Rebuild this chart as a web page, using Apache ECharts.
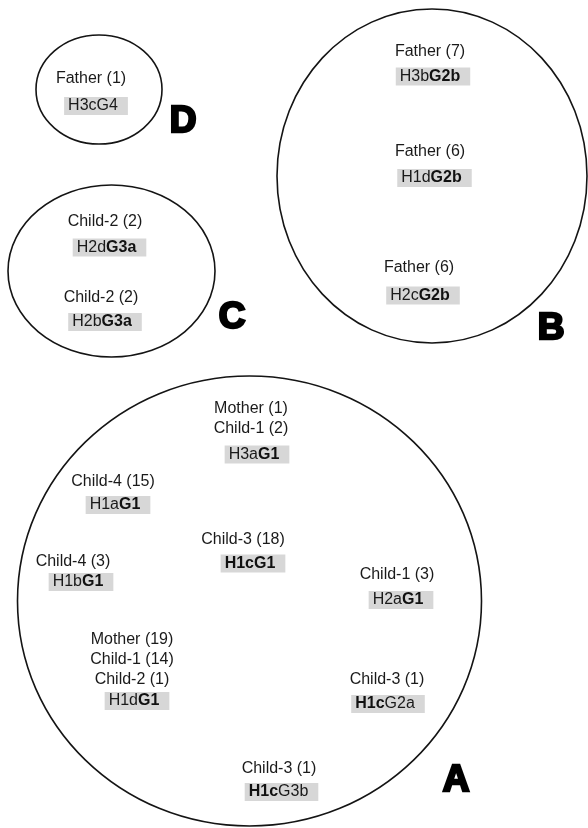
<!DOCTYPE html>
<html>
<head>
<meta charset="utf-8">
<script src="https://cdn.jsdelivr.net/npm/echarts/dist/echarts.min.js"></script>
<style>
  html, body { margin: 0; padding: 0; background: #ffffff; }
  #main { width: 588px; height: 828px; }
</style>
</head>
<body>
<div id="main"></div>
<script>
// ---- Groups (circles) ----
const groupNames = ['A', 'B', 'C', 'D'];
const groupCX = [249.5, 432, 111.5, 99];
const groupCY = [601, 176, 271, 89.5];
const groupRX = [232, 155, 103.5, 63];
const groupRY = [225, 167, 86, 54.5];
const letterX = [456, 551, 232, 183];
const letterY = [781, 329, 318, 122];

// ---- Members ----
const memberGroup = ['D', 'C', 'C', 'B', 'B', 'B', 'A', 'A', 'A', 'A', 'A', 'A', 'A', 'A'];
const memberNames = [
  'Father (1)',
  'Child-2 (2)',
  'Child-2 (2)',
  'Father (7)',
  'Father (6)',
  'Father (6)',
  'Mother (1)\nChild-1 (2)',
  'Child-4 (15)',
  'Child-3 (18)',
  'Child-4 (3)',
  'Child-1 (3)',
  'Mother (19)\nChild-1 (14)\nChild-2 (1)',
  'Child-3 (1)',
  'Child-3 (1)'
];
const hapH = ['H3c', 'H2d', 'H2b', 'H3b', 'H1d', 'H2c', 'H3a', 'H1a', 'H1c', 'H1b', 'H2a', 'H1d', 'H1c', 'H1c'];
const hapG = ['G4', 'G3a', 'G3a', 'G2b', 'G2b', 'G2b', 'G1', 'G1', 'G1', 'G1', 'G1', 'G1', 'G2a', 'G3b'];
const hBold = [0, 0, 0, 0, 0, 0, 0, 0, 1, 0, 0, 0, 1, 1];
const gBold = [0, 1, 1, 1, 1, 1, 1, 1, 1, 1, 1, 1, 0, 0];

// ---- Layout (positions in picture units) ----
const nameX = [91, 105, 101, 430, 430, 419, 251, 113, 243, 73, 397, 132, 387, 279];
const nameY = [79, 222, 298, 52, 152, 268, 418.5, 482, 540, 562, 575, 659.5, 680, 769];
const hapX = [96, 109.5, 105, 433, 434.5, 423, 257, 118, 253, 81, 401, 137, 388, 281.5];
const hapY = [106, 247.5, 322, 76.5, 178, 295.5, 454.5, 505, 563.5, 582, 600, 701, 704, 792];

const FONT = '"Liberation Sans", Arial, Helvetica, sans-serif';
const TXT = '#1a1a1a';

const ellipseData = groupNames.map((g, i) => [groupCX[i], groupCY[i], groupRX[i], groupRY[i], g]);
const letterData = groupNames.map((g, i) => ({ value: [letterX[i], letterY[i]], name: g }));
const nameData = memberNames.map((n, i) => ({ value: [nameX[i], nameY[i]], name: n }));
const hapData = hapH.map((h, i) => ({
  value: [hapX[i], hapY[i]],
  name: '{' + (hBold[i] ? 'b' : 'n') + '|' + h + '}{' + (gBold[i] ? 'b' : 'n') + '|' + hapG[i] + '}'
}));

const baseScatter = {
  type: 'scatter',
  silent: true,
  symbolSize: 0,
  itemStyle: { opacity: 1 },
  emphasis: { disabled: true }
};

const chart = echarts.init(document.getElementById('main'), null, { renderer: 'canvas' });
chart.setOption({
  animation: false,
  backgroundColor: '#ffffff',
  grid: { left: 0, right: 0, top: 0, bottom: 0 },
  xAxis: { type: 'value', min: 0, max: 588, show: false },
  yAxis: { type: 'value', min: 0, max: 828, inverse: true, show: false },
  series: [
    {
      type: 'custom',
      silent: true,
      data: ellipseData,
      renderItem: function (params, api) {
        const c = api.coord([api.value(0), api.value(1)]);
        const sx = api.size([api.value(2), 0])[0];
        const sy = api.size([0, api.value(3)])[1];
        return {
          type: 'ellipse',
          shape: { cx: c[0], cy: c[1], rx: Math.abs(sx), ry: Math.abs(sy) },
          style: { fill: null, stroke: '#141414', lineWidth: 1.6 }
        };
      }
    },
    Object.assign({}, baseScatter, {
      data: nameData,
      label: {
        show: true,
        position: 'inside',
        formatter: p => p.name,
        fontFamily: FONT,
        fontSize: 16,
        lineHeight: 20,
        color: TXT,
        opacity: 1,
        textBorderWidth: 0,
        align: 'center',
        verticalAlign: 'middle'
      }
    }),
    Object.assign({}, baseScatter, {
      data: hapData,
      label: {
        show: true,
        position: 'inside',
        formatter: p => p.name,
        backgroundColor: '#d7d7d7',
        padding: [1, 10, 1, 4],
        opacity: 1,
        textBorderWidth: 0,
        align: 'center',
        verticalAlign: 'middle',
        rich: {
          n: { fontFamily: FONT, fontSize: 16, lineHeight: 16, color: TXT, fontWeight: 'normal', textBorderWidth: 0 },
          b: { fontFamily: FONT, fontSize: 16, lineHeight: 16, color: '#111', fontWeight: 'bold', textBorderWidth: 0 }
        }
      }
    }),
    Object.assign({}, baseScatter, {
      data: letterData,
      label: {
        show: true,
        position: 'inside',
        formatter: p => p.name,
        fontFamily: FONT,
        fontWeight: 900,
        fontSize: 37,
        color: '#000',
        opacity: 1,
        textBorderColor: '#000',
        textBorderWidth: 2.5,
        align: 'center',
        verticalAlign: 'middle'
      }
    })
  ]
});
</script>
</body>
</html>
